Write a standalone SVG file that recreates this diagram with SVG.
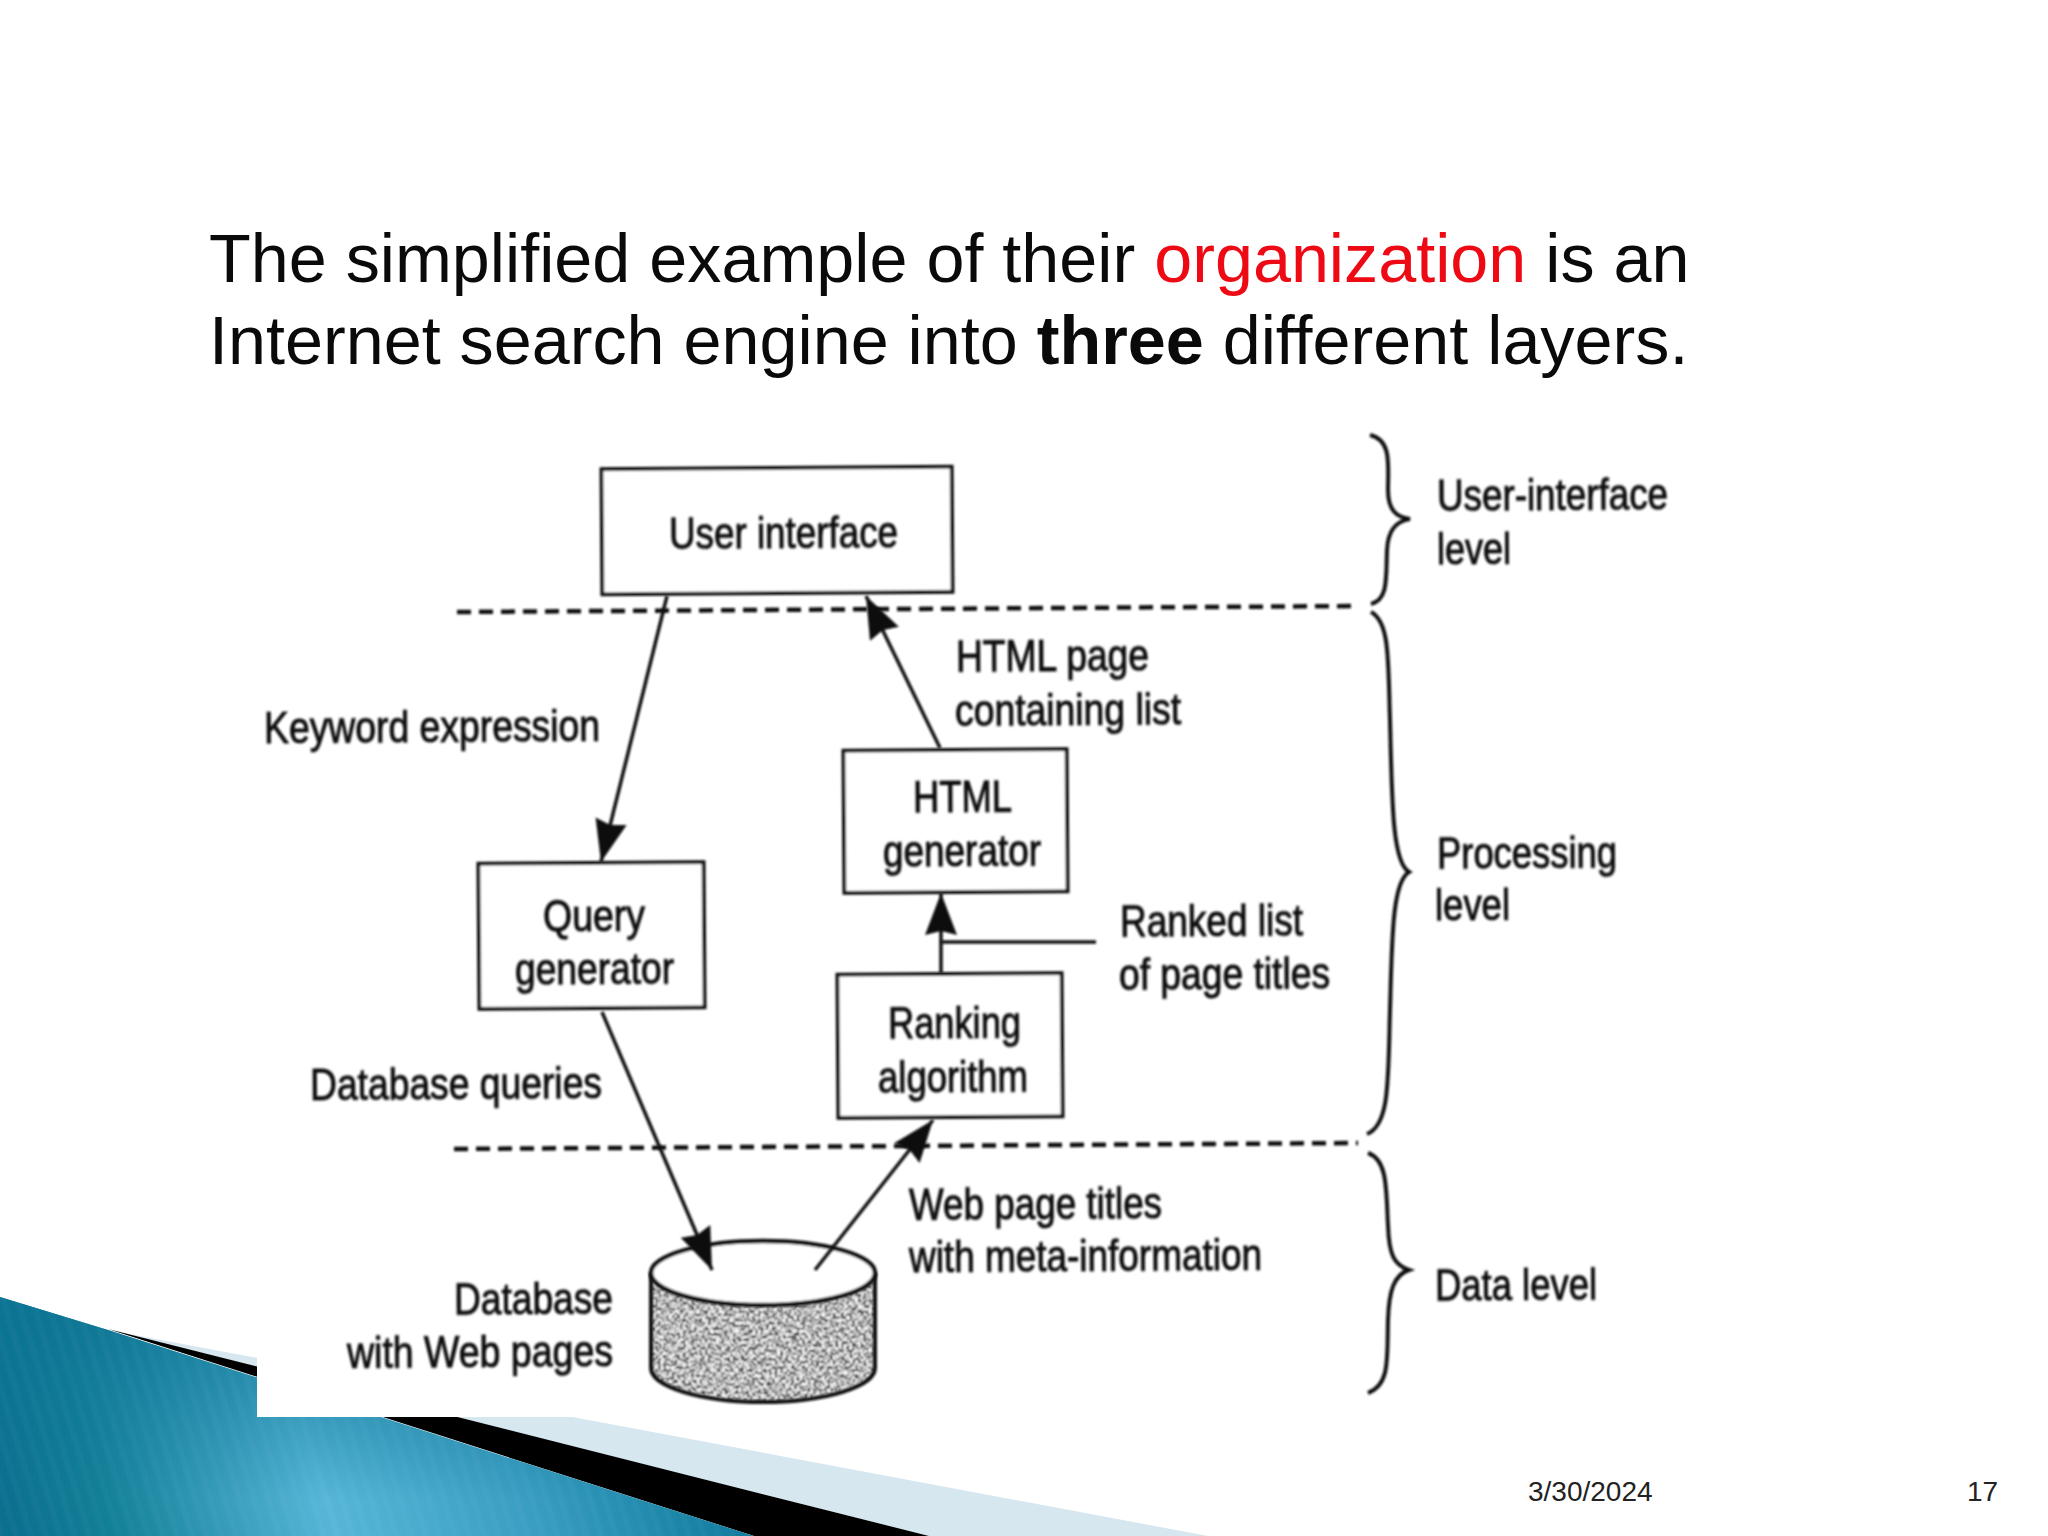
<svg xmlns="http://www.w3.org/2000/svg" width="2048" height="1536" viewBox="0 0 2048 1536">
<style>
.title{font-family:"Liberation Sans",Arial,sans-serif;font-size:68.3px;fill:#0a0a0a}
.lab{font-family:"Liberation Sans",Arial,sans-serif;font-size:45px;fill:#111;stroke:#111;stroke-width:1;filter:url(#soft);transform-box:fill-box;transform-origin:center;transform:rotate(-0.4deg)}
.foot{font-family:"Liberation Sans",Arial,sans-serif;font-size:28px;fill:#222}
.box{fill:#fff;stroke:#111;stroke-width:4;filter:url(#soft);transform-box:fill-box;transform-origin:center;transform:rotate(-0.4deg)}
.ln{fill:none;stroke:#111;stroke-width:3.5;filter:url(#soft)}
.arr{marker-end:url(#head)}
.dash{fill:none;stroke:#111;stroke-width:4.5;stroke-dasharray:14 8;filter:url(#soft)}
.brace{fill:none;stroke:#111;stroke-width:4;filter:url(#soft)}
</style>
<defs>
<filter id="soft" filterUnits="userSpaceOnUse" x="0" y="0" width="2048" height="1536"><feGaussianBlur stdDeviation="0.8"/></filter>
<filter id="noise" x="0" y="0" width="100%" height="100%">
<feTurbulence type="fractalNoise" baseFrequency="0.36" numOctaves="3" seed="7"/>
<feColorMatrix type="matrix" values="5 0 0 0 -2.05 5 0 0 0 -2.05 5 0 0 0 -2.05 0 0 0 0 1"/>
<feGaussianBlur stdDeviation="1"/>
</filter>
<marker id="head" markerUnits="userSpaceOnUse" markerWidth="46" markerHeight="36" viewBox="0 0 46 36" refX="44" refY="18" orient="auto">
<path d="M44,18 L2,2 L6,18 L2,34 Z" fill="#0c0c0c"/>
</marker>
<linearGradient id="teal" gradientUnits="userSpaceOnUse" x1="0" y1="1500" x2="800" y2="1258">
<stop offset="0" stop-color="#0b6f8e"/>
<stop offset="0.12" stop-color="#138099"/>
<stop offset="0.37" stop-color="#57b6d7"/>
<stop offset="0.6" stop-color="#3a9ec2"/>
<stop offset="0.85" stop-color="#0f7b9c"/>
<stop offset="1" stop-color="#0b6f8e"/>
</linearGradient>
<linearGradient id="shade" gradientUnits="userSpaceOnUse" x1="0" y1="1320" x2="0" y2="1500">
<stop offset="0" stop-color="#0b7393" stop-opacity="0.8"/>
<stop offset="1" stop-color="#0b7393" stop-opacity="0"/>
</linearGradient>
<pattern id="stripes" patternUnits="userSpaceOnUse" width="14" height="14" patternTransform="rotate(-16.9)">
<rect width="6" height="14" fill="#fff" fill-opacity="0.025"/>
</pattern>
<clipPath id="dbBody"><path d="M651,1273 V1368 A112,34 0 0 0 875,1368 V1273 Z"/></clipPath>
</defs>
<rect width="2048" height="1536" fill="#fff"/>
<g id="decoration">
<polygon points="108,1330 1208,1536 929,1536" fill="#d6e7ef"/>
<polygon points="108,1329 929,1536 754,1536" fill="#000"/>
<polygon points="0,1297 108,1330 754,1536 0,1536" fill="url(#teal)"/>
<polygon points="0,1297 108,1330 754,1536 0,1536" fill="url(#shade)"/>
<polygon points="0,1297 108,1330 754,1536 0,1536" fill="url(#stripes)"/>
</g>
<rect id="picture-ground" x="257" y="420" width="1443" height="997" fill="#fff"/>
<g id="heading">
<text class="title" x="209" y="282">The simplified example of their <tspan fill="#ee0a14">organization</tspan> is an</text>
<text class="title" x="209" y="364">Internet search engine into <tspan font-weight="bold">three</tspan> different layers.</text>
</g>
<g id="node-database">
<g clip-path="url(#dbBody)"><rect x="645" y="1265" width="240" height="145" filter="url(#noise)"/></g>
<path class="brace" d="M651,1273 V1368 A112,34 0 0 0 875,1368 V1273"/>
<ellipse cx="763" cy="1273" rx="112" ry="32" fill="#fff" stroke="#111" stroke-width="4.5" filter="url(#soft)"/>
</g>
<g id="connectors">
<path class="dash" d="M457,612 L1358,606"/>
<path class="dash" d="M454,1149 L1358,1143"/>
<path class="ln arr" d="M667,596 L601,862"/>
<path class="ln arr" d="M940,748 L866,596"/>
<path class="ln arr" d="M941,973 L941,893"/>
<path class="ln" d="M941,942 L1096,942"/>
<path class="ln arr" d="M602,1012 L712,1270"/>
<path class="ln arr" d="M815,1270 L933,1120"/>
</g>
<g id="node-user-interface"><rect class="box" x="602" y="468" width="350" height="125"/><text class="lab" x="669" y="548" textLength="229" lengthAdjust="spacingAndGlyphs">User interface</text></g>
<g id="node-query-generator"><rect class="box" x="479" y="863" width="225" height="145"/><text class="lab" x="543" y="931" textLength="102" lengthAdjust="spacingAndGlyphs">Query</text><text class="lab" x="515" y="984" textLength="159" lengthAdjust="spacingAndGlyphs">generator</text></g>
<g id="node-html-generator"><rect class="box" x="844" y="750" width="223" height="142"/><text class="lab" x="913" y="812" textLength="99" lengthAdjust="spacingAndGlyphs">HTML</text><text class="lab" x="883" y="866" textLength="158" lengthAdjust="spacingAndGlyphs">generator</text></g>
<g id="node-ranking-algorithm"><rect class="box" x="838" y="974" width="224" height="143"/><text class="lab" x="888" y="1038" textLength="133" lengthAdjust="spacingAndGlyphs">Ranking</text><text class="lab" x="878" y="1092" textLength="150" lengthAdjust="spacingAndGlyphs">algorithm</text></g>
<g id="braces">
<path class="brace" d="M1370,435 C1392,440 1388,465 1388,490 C1388,510 1396,517 1410,519 C1396,521 1388,530 1387,550 C1386,580 1388,600 1371,604"/>
<path class="brace" d="M1371,612 C1390,622 1388,660 1390,720 C1392,800 1392,862 1409,872 C1392,882 1392,940 1390,1010 C1388,1080 1390,1125 1367,1134"/>
<path class="brace" d="M1368,1153 C1388,1160 1386,1190 1388,1225 C1389,1255 1394,1265 1409,1270 C1394,1275 1389,1290 1388,1320 C1387,1360 1390,1385 1368,1393"/>
</g>
<g id="labels">
<text class="lab" x="264" y="742" textLength="336" lengthAdjust="spacingAndGlyphs">Keyword expression</text>
<text class="lab" x="956" y="671" textLength="193" lengthAdjust="spacingAndGlyphs">HTML page</text>
<text class="lab" x="955" y="725" textLength="226" lengthAdjust="spacingAndGlyphs">containing list</text>
<text class="lab" x="1120" y="936" textLength="183" lengthAdjust="spacingAndGlyphs">Ranked list</text>
<text class="lab" x="1119" y="989" textLength="211" lengthAdjust="spacingAndGlyphs">of page titles</text>
<text class="lab" x="310" y="1099" textLength="292" lengthAdjust="spacingAndGlyphs">Database queries</text>
<text class="lab" x="909" y="1219" textLength="253" lengthAdjust="spacingAndGlyphs">Web page titles</text>
<text class="lab" x="909" y="1271" textLength="353" lengthAdjust="spacingAndGlyphs">with meta-information</text>
<text class="lab" x="454" y="1314" textLength="159" lengthAdjust="spacingAndGlyphs">Database</text>
<text class="lab" x="347" y="1367" textLength="266" lengthAdjust="spacingAndGlyphs">with Web pages</text>
<text class="lab" x="1437" y="510" textLength="231" lengthAdjust="spacingAndGlyphs">User-interface</text>
<text class="lab" x="1437" y="564" textLength="74" lengthAdjust="spacingAndGlyphs">level</text>
<text class="lab" x="1437" y="868" textLength="180" lengthAdjust="spacingAndGlyphs">Processing</text>
<text class="lab" x="1435" y="920" textLength="75" lengthAdjust="spacingAndGlyphs">level</text>
<text class="lab" x="1435" y="1300" textLength="162" lengthAdjust="spacingAndGlyphs">Data level</text>
</g>
<g id="footer">
<text class="foot" x="1528" y="1501">3/30/2024</text>
<text class="foot" x="1967" y="1501">17</text>
</g>
</svg>
